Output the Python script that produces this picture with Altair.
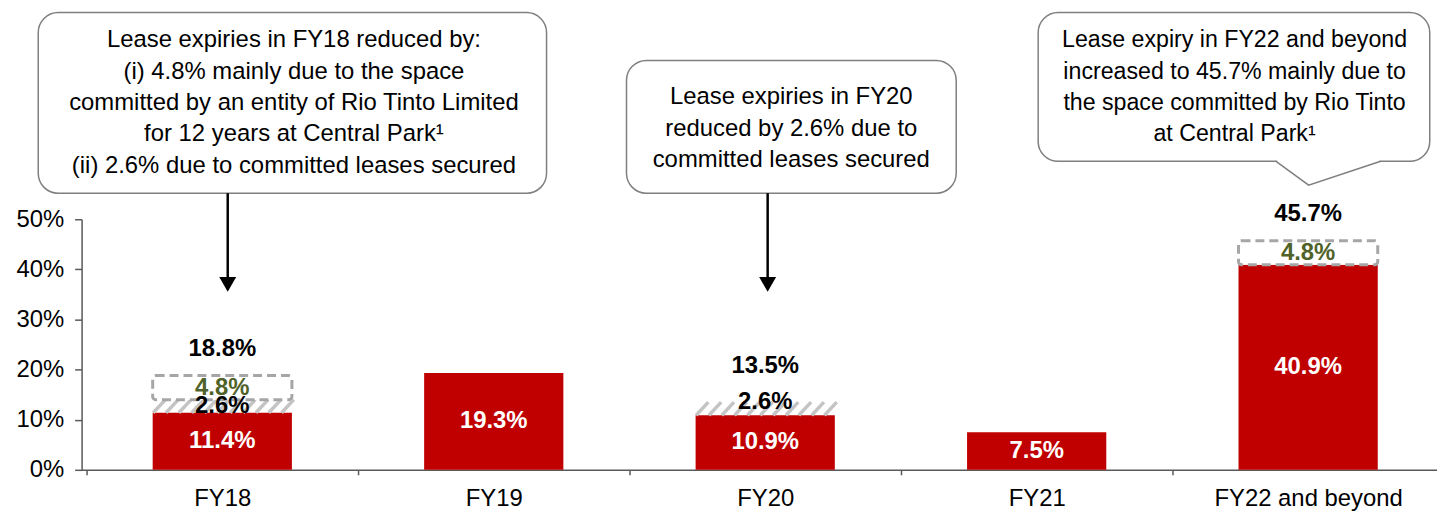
import altair as alt
import pandas as pd

# ---------------- data ----------------
categories = ["FY18", "FY19", "FY20", "FY21", "FY22 and beyond"]
base_pct = [11.4, 19.3, 10.9, 7.5, 40.9]          # red bars
committed_pct = [2.6, 0.0, 2.6, 0.0, 0.0]         # hatched: committed leases secured
rio_tinto_pct = [4.8, 0.0, 0.0, 0.0, 4.8]         # dashed: Rio Tinto space
total_labels = ["18.8%", "", "13.5%", "", "45.7%"]
y_tick_values = [0, 10, 20, 30, 40, 50]

note_texts = [
    "Lease expiries in FY18 reduced by:\n(i) 4.8% mainly due to the space\ncommitted by an entity of Rio Tinto Limited\nfor 12 years at Central Park\u00b9\n(ii) 2.6% due to committed leases secured",
    "Lease expiries in FY20\nreduced by 2.6% due to\ncommitted leases secured",
    "Lease expiry in FY22 and beyond\nincreased to 45.7% mainly due to\nthe space committed by Rio Tinto\nat Central Park\u00b9",
]

# ---------------- layout of annotations (data units; first text line) ----------------
note_x = [0.264, 2.096, 3.729]
note_y = [85.7, 74.3, 85.7]
note_size = [24, 24, 23.3]
box_x0 = [-0.678, 1.489, 3.0055]
box_x1 = [1.1945, 2.7036, 4.448]
box_y0 = [55.19, 55.19, 61.56]
box_y1 = [91.23, 81.68, 91.23]
arrow_x = [0.02, 2.009]
arrow_top = [55.19, 55.19]
arrow_tip = [37.0, 37.0]
pointer_x = [3.8818, 4.0018, 4.2673]
pointer_y = [61.56, 56.79, 61.56]

RED = "#C00000"
GREEN = "#4F6228"
FONT = "Liberation Sans"
BAR_W = 140
HALF = 0.2545

# ---------------- tables ----------------
rows = []
for i, cat in enumerate(categories):
    b, c, r = base_pct[i], committed_pct[i], rio_tinto_pct[i]
    rows.append(dict(i=i, cat=cat, seg="base", y0=0.0, y1=b, label=f"{b}%", ly=b / 2))
    if c > 0:
        # committed label sits mid-band under a dashed box, else on top of the band
        ly = b + c / 2 if r > 0 else b + c
        rows.append(dict(i=i, cat=cat, seg="committed", y0=b, y1=b + c, label=f"{c}%", ly=ly))
    if r > 0:
        rows.append(dict(i=i, cat=cat, seg="rio", y0=b + c, y1=b + c + r, label=f"{r}%",
                         ly=b + c + r / 2))
seg = pd.DataFrame(rows)

tot = pd.DataFrame({
    "i": list(range(len(categories))),
    "total": [b + c + r for b, c, r in zip(base_pct, committed_pct, rio_tinto_pct)],
    "boxed": [r > 0 for r in rio_tinto_pct],
    "label": total_labels,
})
tot = tot[tot["label"] != ""]

# hatch stripes (decoration) for committed segments
stripes = []
for i in range(len(categories)):
    c = committed_pct[i]
    if c > 0:
        for k in range(11):
            xs = i - HALF + k * 0.0473
            stripes.append(dict(xs=xs, xe=xs + 0.045, y0=base_pct[i], y1=base_pct[i] + c))
stripes = pd.DataFrame(stripes)

boxes = pd.DataFrame({"x0": box_x0, "x1": box_x1, "y0": box_y0, "y1": box_y1})
notes = pd.DataFrame({"x": note_x, "y": note_y, "text": note_texts, "fs": note_size})
arrows = pd.DataFrame({"x": arrow_x, "top": arrow_top, "tip": arrow_tip})
pointer = pd.DataFrame({"x": pointer_x, "y": pointer_y, "o": [0, 1, 2]})
cover = pd.DataFrame({"x0": [pointer_x[0] + 0.004], "x1": [pointer_x[2] - 0.004], "y": [pointer_y[0]]})

# ---------------- scales / axes ----------------
xscale = alt.Scale(domain=[-0.5, 4.4564], nice=False, zero=False)
yscale = alt.Scale(domain=[0, 50], nice=False, zero=True)

label_arr = "[" + ",".join(f"'{c}'" for c in categories) + "]"
xaxis = alt.Axis(
    values=[v / 2 for v in range(-1, 9)],
    labelExpr=f"datum.value % 1 === 0 ? {label_arr}[datum.value] : ''",
    tickOpacity={"condition": {"test": "datum.value % 1 === 0", "value": 0}, "value": 1},
    tickSize=5, labelPadding=12, grid=False, title=None,
    domainColor="#595959", tickColor="#595959", domainWidth=1.5, tickWidth=1.5,
    labelFontSize=24, labelFont=FONT, labelColor="#000000", labelFlush=False,
    labelOverlap=False, labelLimit=0,
)
yaxis = alt.Axis(
    values=y_tick_values, labelExpr="datum.value + '%'",
    tickSize=7, labelPadding=11, grid=False, title=None,
    domainColor="#595959", tickColor="#595959", domainWidth=1.5, tickWidth=1.5,
    labelFontSize=24, labelFont=FONT, labelColor="#000000",
)

def X(field):
    return alt.X(field, type="quantitative", scale=xscale, axis=xaxis, title=None)

def Y(field):
    return alt.Y(field, type="quantitative", scale=yscale, axis=yaxis, title=None)

# ---------------- layers ----------------
box_layer = alt.Chart(boxes).mark_rect(
    fill="white", stroke="#7F7F7F", strokeWidth=1.5, cornerRadius=20
).encode(x=X("x0"), x2="x1", y=Y("y0"), y2="y1")

cover_layer = alt.Chart(cover).mark_rule(color="white", strokeWidth=3).encode(
    x=X("x0"), x2="x1", y=Y("y"))

pointer_layer = alt.Chart(pointer).mark_line(color="#7F7F7F", strokeWidth=1.5).encode(
    x=X("x"), y=Y("y"), order="o:Q")

note_layer = alt.Chart(notes).mark_text(
    font=FONT, color="#000000", align="center", baseline="middle",
    lineBreak="\n", lineHeight=31.5
).encode(x=X("x"), y=Y("y"), text="text:N", size=alt.Size("fs:Q", scale=None, legend=None))

arrow_line = alt.Chart(arrows).mark_rule(color="#000000", strokeWidth=2.5).encode(
    x=X("x"), y=Y("top"), y2="tip")
arrow_head = alt.Chart(arrows).mark_point(
    shape="triangle-down", filled=True, size=290, color="#000000", opacity=1
).encode(x=X("x"), y=Y("tip"))

red_bars = alt.Chart(seg).transform_filter(alt.datum.seg == "base").mark_bar(
    size=BAR_W, color=RED
).encode(x=X("i"), y=Y("y0"), y2="y1")

hatch = alt.Chart(stripes).mark_rule(color="#C4C4C4", strokeWidth=3.5).encode(
    x=X("xs"), x2="xe", y=Y("y0"), y2="y1")

dashed = alt.Chart(seg).transform_filter(alt.datum.seg == "rio").mark_bar(
    size=BAR_W, fill="white", stroke="#A6A6A6", strokeWidth=3,
    strokeDash=[9, 5], cornerRadius=3
).encode(x=X("i"), y=Y("y0"), y2="y1")

def seg_labels(name, color):
    return alt.Chart(seg).transform_filter(alt.datum.seg == name).mark_text(
        font=FONT, fontSize=24, fontWeight="bold", color=color, baseline="middle"
    ).encode(x=X("i"), y=Y("ly"), text="label:N")

def total_labels_layer(boxed, dy):
    return alt.Chart(tot).transform_filter(alt.datum.boxed == boxed).mark_text(
        font=FONT, fontSize=24, fontWeight="bold", color="#000000", baseline="middle", dy=dy
    ).encode(x=X("i"), y=Y("total"), text="label:N")

chart = alt.layer(
    red_bars, hatch, dashed,
    seg_labels("base", "white"), seg_labels("committed", "#000000"), seg_labels("rio", GREEN),
    total_labels_layer(True, -27), total_labels_layer(False, -36),
    box_layer, cover_layer, pointer_layer, note_layer, arrow_line, arrow_head,
).properties(
    width=1363, height=252,
    autosize=alt.AutoSizeParams(type="none"),
    padding={"left": 74, "top": 211, "right": 0, "bottom": 41},
    background="white",
).configure_view(stroke=None)

chart.save("out.html", embed_options={"renderer": "svg", "actions": False})
